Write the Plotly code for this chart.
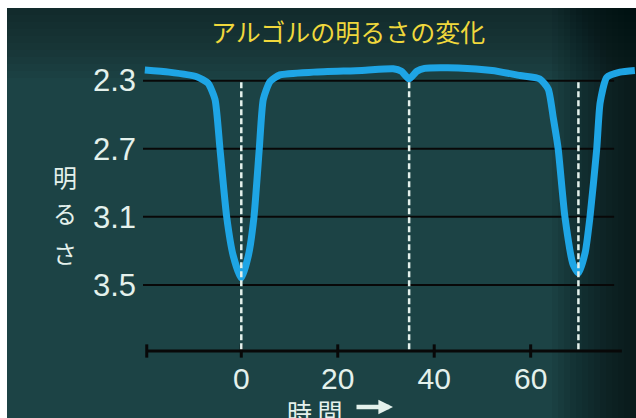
import plotly.graph_objects as go

# ---- data ----
time_h = [-20, -15, -9.25, -6.9, -5.45, -4.42, -3.03, -1.66, 0, 1.45, 2.63, 3.73, 4.56, 5.95,
          8.0, 15, 25, 31.5, 33.2, 34.8, 36.4, 38, 45, 52, 57.8, 61.9, 63.65, 64.7, 65.7,
          67.1, 68.8, 69.9, 71.3, 72.3, 73.7, 74.4, 75.8, 78.5, 81.6]
magnitude = [2.237, 2.25, 2.277, 2.315, 2.41, 2.70, 3.10, 3.33, 3.46, 3.33, 3.10, 2.70, 2.41,
             2.306, 2.266, 2.25, 2.24, 2.23, 2.245, 2.29, 2.245, 2.228, 2.225, 2.24, 2.27,
             2.29, 2.35, 2.52, 2.70, 3.10, 3.38, 3.43, 3.31, 3.10, 2.70, 2.43, 2.28, 2.25, 2.24]
eclipse_times = [0, 34.8, 69.9]
y_ticks = [2.3, 2.7, 3.1, 3.5]
y_tick_labels = ["2.3", "2.7", "3.1", "3.5"]
x_ticks = [0, 20, 40, 60]
x_tick_labels = ["0", "20", "40", "60"]
title_text = "アルゴルの明るさの変化"
y_title_chars = ["明", "る", "さ"]
x_title_text = "時 間"

# ---- geometry / style ----
W, H = 636, 418
ML, MR, MT, MB = 143, 0, 50, 67
PW, PH = W - ML - MR, H - MT - MB
X_RANGE = [-20.38, 81.84]
Y_RANGE = [3.888, 2.12]
AXIS_START, AXIS_END = -19.6, 78.9
GRID_END = 77.3
BG = "#1c4345"
INK = "#e4f1ec"


def px(xp):
    return (xp - ML) / PW


def py(yp):
    return 1 - (yp - MT) / PH


fig = go.Figure()

fig.add_trace(go.Scatter(
    x=time_h, y=magnitude, mode="lines",
    line=dict(color="#1ea5e5", width=7, shape="spline", smoothing=0.55),
    hoverinfo="skip", showlegend=False))

for t in eclipse_times:
    fig.add_trace(go.Scatter(
        x=[t, t], y=[y_ticks[0] + 0.01, Y_RANGE[0]], mode="lines",
        line=dict(color=INK, width=2.5, dash="6px,3px"),
        hoverinfo="skip", showlegend=False))

shapes = []
# white border strips of the scanned slide
shapes.append(dict(type="rect", xref="paper", yref="paper", x0=px(0), x1=px(7), y0=py(H), y1=py(0),
                   fillcolor="white", line_width=0, layer="below"))
shapes.append(dict(type="rect", xref="paper", yref="paper", x0=px(0), x1=px(W), y0=py(8), y1=py(0),
                   fillcolor="white", line_width=0, layer="below"))
# vignette (darker right and top edges)
for i in range(14):
    shapes.append(dict(type="rect", xref="paper", yref="paper", x0=px(W - (i + 1) * 6), x1=px(W),
                       y0=py(H), y1=py(8), fillcolor="black", opacity=0.055, line_width=0, layer="below"))
for i in range(10):
    shapes.append(dict(type="rect", xref="paper", yref="paper", x0=px(7), x1=px(W),
                       y0=py(8 + (i + 1) * 7), y1=py(8), fillcolor="black", opacity=0.035,
                       line_width=0, layer="below"))
# grid lines
for v in y_ticks:
    shapes.append(dict(type="line", xref="x", yref="y", x0=X_RANGE[0], x1=GRID_END, y0=v, y1=v,
                       line=dict(color="#080808", width=2), layer="below"))
# time axis line, end cap and ticks
shapes.append(dict(type="line", xref="x", yref="y domain", x0=AXIS_START, x1=AXIS_END, y0=0, y1=0,
                   line=dict(color="#080808", width=3), layer="below"))
shapes.append(dict(type="line", xref="x", yref="y domain", x0=AXIS_START, x1=AXIS_START,
                   y0=-0.022, y1=0.022, line=dict(color="#080808", width=3), layer="below"))
for t in x_ticks:
    shapes.append(dict(type="line", xref="x", yref="y domain", x0=t, x1=t, y0=-0.022, y1=0.022,
                       line=dict(color="#080808", width=3), layer="below"))

annotations = []
annotations.append(dict(text=title_text, xref="paper", yref="paper", x=px(348), y=py(31),
                        xanchor="center", yanchor="middle", showarrow=False,
                        font=dict(family="Noto Sans CJK JP", size=25, color="#f0d83c")))
for ch, yc in zip(y_title_chars, [176, 212, 252]):
    annotations.append(dict(text=ch, xref="paper", yref="paper", x=px(65), y=py(yc),
                            xanchor="center", yanchor="middle", showarrow=False,
                            font=dict(family="Noto Sans CJK JP", size=24, color=INK)))
annotations.append(dict(text=x_title_text, xref="paper", yref="paper", x=px(315), y=py(411),
                        xanchor="center", yanchor="middle", showarrow=False,
                        font=dict(family="Noto Sans CJK JP", size=25, color=INK)))
annotations.append(dict(text="", xref="paper", yref="paper", x=px(393), y=py(407),
                        ax=-38, ay=0, showarrow=True, arrowhead=2, arrowsize=0.65,
                        arrowwidth=4.5, arrowcolor=INK, standoff=0))

fig.update_layout(
    width=W, height=H,
    margin=dict(l=ML, r=MR, t=MT, b=MB, pad=0),
    paper_bgcolor=BG, plot_bgcolor="rgba(0,0,0,0)",
    showlegend=False,
    shapes=shapes, annotations=annotations,
    xaxis=dict(range=X_RANGE, showgrid=False, zeroline=False, showline=False,
               tickvals=x_ticks, ticktext=x_tick_labels, ticks="",
               ticklabelstandoff=7,
               tickfont=dict(family="Liberation Sans", size=30, color=INK)),
    yaxis=dict(range=Y_RANGE, autorange=False, showgrid=False, zeroline=False, showline=False,
               tickvals=y_ticks, ticktext=y_tick_labels, ticks="",
               ticklabelstandoff=6,
               tickfont=dict(family="Liberation Sans", size=31, color=INK)),
)

fig.write_html("out.html", config={"displayModeBar": False},
               post_script="document.body.style.margin='0';document.body.style.overflow='hidden';")
